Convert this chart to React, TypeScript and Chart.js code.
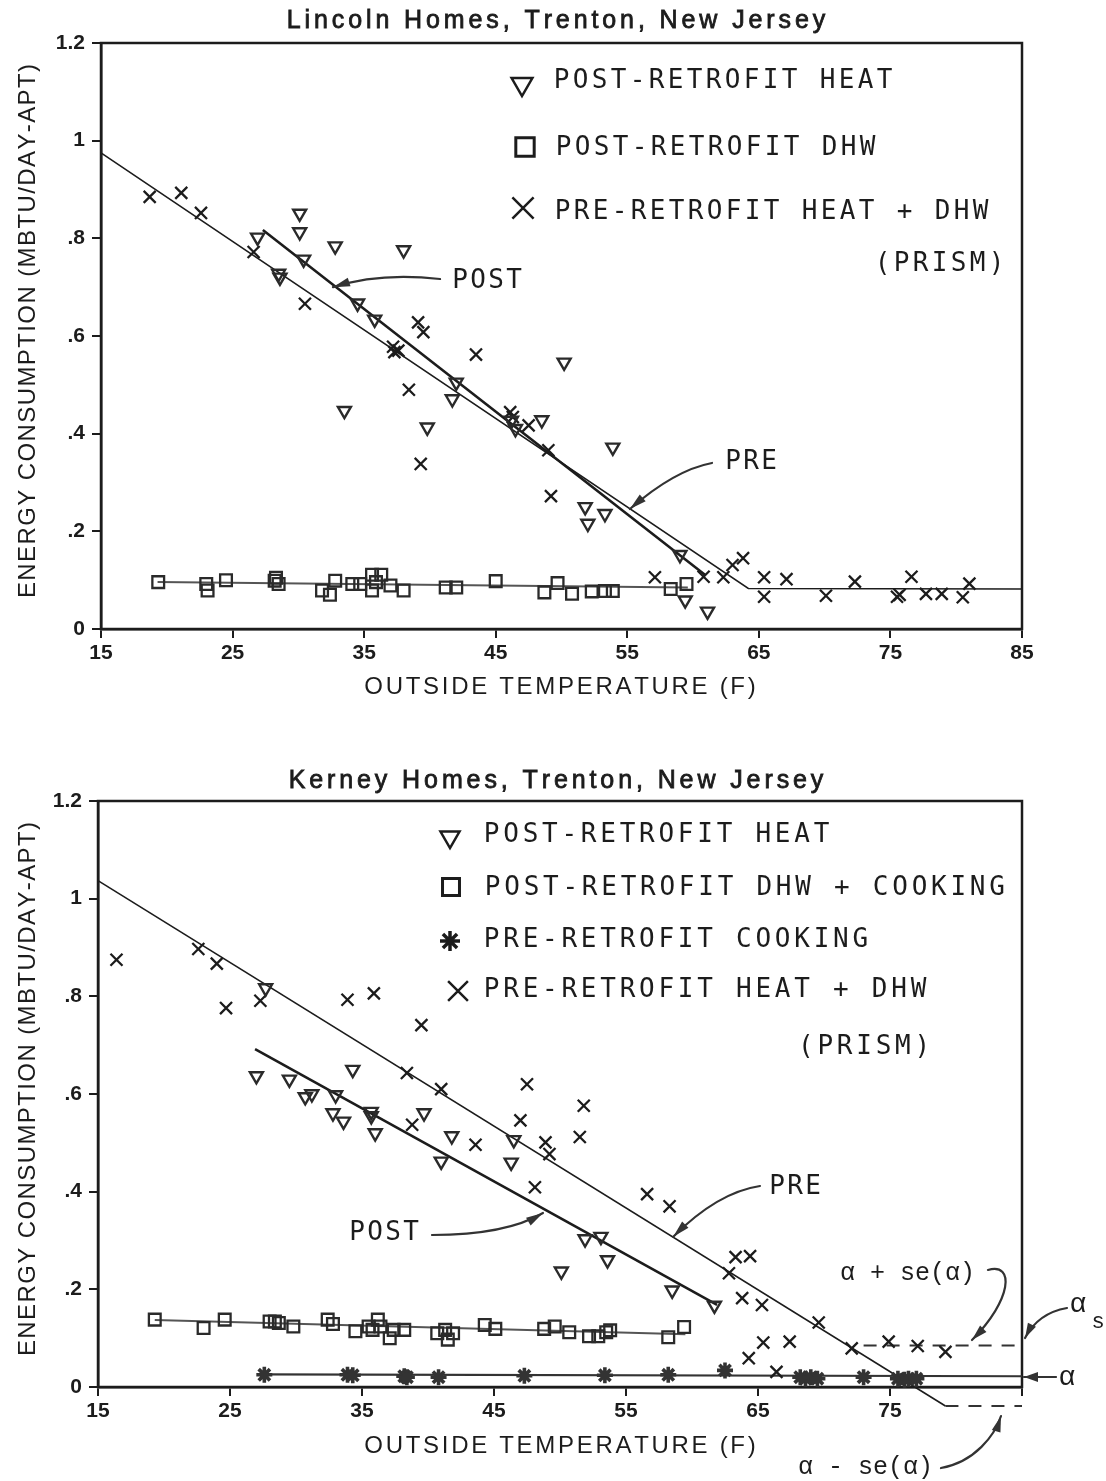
import React, { useEffect, useRef } from 'react';
import { Chart, registerables } from 'chart.js';

Chart.register(...registerables);

type P = [number, number];

// ---------------- Tick values / labels ----------------
const xTickValues = [15, 25, 35, 45, 55, 65, 75, 85];
const xTickLabelsTop = ['15', '25', '35', '45', '55', '65', '75', '85'];
const xTickLabelsBottom = ['15', '25', '35', '45', '55', '65', '75', ''];
const yTickValues = [0, 0.2, 0.4, 0.6, 0.8, 1.0, 1.2];
const yTickLabels = ['0', '.2', '.4', '.6', '.8', '1', '1.2'];

// ---------------- Lincoln Homes (top) ----------------
const lincolnPostHeat: P[] = [
  [26.9, 0.802], [28.5, 0.728], [28.6, 0.72], [30.1, 0.851], [30.1, 0.813], [30.4, 0.757],
  [32.8, 0.784], [33.5, 0.447], [34.5, 0.667], [35.8, 0.634], [38.0, 0.776], [39.8, 0.413],
  [41.7, 0.471], [42.0, 0.505], [46.2, 0.427], [46.5, 0.41], [48.5, 0.428], [50.2, 0.546],
  [51.8, 0.25], [52.0, 0.216], [53.3, 0.236], [53.9, 0.372], [59.0, 0.152], [59.4, 0.059],
  [61.1, 0.036],
];
const lincolnPostDhw: P[] = [
  [19.35, 0.096], [23.0, 0.092], [23.1, 0.079], [24.5, 0.1], [28.2, 0.099], [28.5, 0.092],
  [28.3, 0.105], [31.8, 0.079], [32.4, 0.07], [32.8, 0.099], [34.1, 0.092], [34.7, 0.092],
  [35.6, 0.079], [35.6, 0.111], [36.3, 0.111], [35.9, 0.096], [37.0, 0.089], [38.0, 0.079],
  [41.2, 0.085], [42.0, 0.085], [45.0, 0.098], [48.7, 0.075], [49.7, 0.094], [50.8, 0.072],
  [52.3, 0.077], [53.3, 0.078], [53.9, 0.078], [58.3, 0.082], [59.5, 0.092],
];
const lincolnPreHeatDhw: P[] = [
  [18.7, 0.885], [21.1, 0.893], [22.6, 0.852], [26.6, 0.772], [30.5, 0.666], [37.2, 0.578],
  [37.6, 0.57], [37.3, 0.567], [39.1, 0.628], [39.5, 0.608], [38.4, 0.49], [43.5, 0.562],
  [39.3, 0.338], [46.1, 0.444], [46.3, 0.434], [47.5, 0.417], [49.0, 0.366], [49.2, 0.272],
  [57.1, 0.106], [60.8, 0.107], [62.3, 0.106], [63.0, 0.131], [63.8, 0.145], [65.4, 0.106],
  [65.4, 0.066], [67.1, 0.102], [70.1, 0.068], [72.3, 0.097], [75.5, 0.066], [75.7, 0.07],
  [76.6, 0.107], [77.7, 0.072], [78.9, 0.072], [80.5, 0.065], [81.0, 0.093],
];
const lincolnPreFit: P[] = [[15, 0.975], [64.2, 0.083], [85, 0.082]];
const lincolnPostFit: P[] = [[27.3, 0.817], [60.9, 0.111]];
const lincolnDhwFit: P[] = [[19.3, 0.096], [59.6, 0.085]];

// annotation anchors (data units)
const lincolnPostLabel: P = [41.75, 0.7126];
const lincolnPostArrow: P[] = [[40.77, 0.7167], [36.2, 0.731], [32.63, 0.7]];
const lincolnPreLabel: P = [62.5, 0.342];
const lincolnPreArrow: P[] = [[61.44, 0.34], [58.58, 0.3254], [55.2, 0.2457]];

// ---------------- Kerney Homes (bottom) ----------------
const kerneyPostHeat: P[] = [
  [27.7, 0.817], [27.0, 0.637], [29.5, 0.63], [30.7, 0.594], [31.2, 0.6], [33.0, 0.598],
  [34.3, 0.65], [32.8, 0.561], [33.6, 0.544], [35.7, 0.564], [35.7, 0.555], [36.0, 0.52],
  [39.7, 0.561], [41.8, 0.514], [41.0, 0.462], [46.5, 0.506], [46.3, 0.46], [50.1, 0.237],
  [51.9, 0.303], [53.1, 0.308], [53.6, 0.26], [58.5, 0.198], [61.7, 0.167],
];
const kerneyPostDhwCook: P[] = [
  [19.3, 0.138], [23.0, 0.121], [24.6, 0.138], [28.0, 0.134], [28.4, 0.134], [28.7, 0.131],
  [29.8, 0.124], [32.4, 0.138], [32.8, 0.129], [34.5, 0.114], [35.5, 0.124], [35.8, 0.117],
  [36.2, 0.138], [36.4, 0.124], [37.1, 0.1], [37.4, 0.117], [38.2, 0.117], [40.7, 0.11],
  [41.3, 0.117], [41.5, 0.097], [41.9, 0.11], [44.3, 0.127], [45.1, 0.119], [48.8, 0.119],
  [49.6, 0.124], [50.7, 0.112], [52.2, 0.104], [52.9, 0.104], [53.5, 0.112], [53.8, 0.116],
  [58.2, 0.102], [59.4, 0.123],
];
const kerneyPreCooking: P[] = [
  [27.6, 0.025], [33.9, 0.025], [34.3, 0.024], [38.2, 0.022], [38.4, 0.02], [40.8, 0.02],
  [47.3, 0.023], [53.4, 0.024], [58.2, 0.025], [62.5, 0.034], [68.2, 0.02], [68.6, 0.017],
  [69.0, 0.02], [69.5, 0.017], [73.0, 0.02], [75.6, 0.017], [76.1, 0.015], [76.4, 0.017],
  [77.0, 0.017],
];
const kerneyPreHeatDhw: P[] = [
  [16.4, 0.875], [22.6, 0.897], [24.0, 0.867], [24.7, 0.776], [27.3, 0.791], [33.9, 0.793],
  [35.9, 0.806], [39.5, 0.741], [38.4, 0.643], [41.0, 0.61], [38.8, 0.537], [43.6, 0.496],
  [47.5, 0.62], [47.0, 0.546], [48.9, 0.501], [49.2, 0.477], [48.1, 0.409], [51.8, 0.576],
  [51.5, 0.512], [56.6, 0.395], [58.3, 0.37], [62.8, 0.233], [63.3, 0.266], [64.4, 0.268],
  [63.8, 0.182], [65.3, 0.168], [64.3, 0.059], [65.4, 0.091], [67.4, 0.093], [66.4, 0.031],
  [69.6, 0.132], [72.1, 0.079], [74.9, 0.093], [77.1, 0.084], [79.2, 0.072],
];
const kerneyPreFit: P[] = [[15, 1.037], [79.2, -0.039]];
const kerneyPostFit: P[] = [[26.9, 0.692], [61.9, 0.168]];
const kerneyDhwCookFit: P[] = [[19.3, 0.137], [59.5, 0.108]];
const kerneyCookFit: P[] = [[27.5, 0.026], [85, 0.022]];
const kerneyAlphaPlus: P[] = [[73, 0.085], [85, 0.085]];
const kerneyAlphaMinus: P[] = [[79.2, -0.039], [85, -0.039]];

const kerneyPostLabel: P = [34.09, 0.3154];
const kerneyPostArrow: P[] = [[40.3, 0.3113], [45.91, 0.3113], [48.71, 0.3563]];
const kerneyPreLabel: P = [65.91, 0.4096];
const kerneyPreArrow: P[] = [[65.15, 0.4116], [61.95, 0.3987], [58.58, 0.3078]];
const kerneyPlusLabel: P = [71.21, 0.2334];
const kerneyPlusArrow: P[] = [[82.42, 0.2396], [84.47, 0.256], [84.24, 0.1782], [81.21, 0.0962]];
const kerneyAlphaSLabel: P = [89.24, 0.1679];
const kerneyAlphaSSub: P = [90.76, 0.1331];
const kerneyAlphaSArrow: P[] = [[88.41, 0.1618], [86.21, 0.1515], [85.23, 0.1003]];
const kerneyAlphaLabel: P = [88.41, 0.0184];
const kerneyAlphaArrow: P[] = [[87.58, 0.0205], [85.15, 0.0205]];
const kerneyMinusLabel: P = [68.03, -0.1638];
const kerneyMinusArrow: P[] = [[78.86, -0.1659], [81.44, -0.1536], [82.95, -0.0983], [83.41, -0.0594]];

// ---------------- styling ----------------
const INK = '#1c1c1c';
const MONO = '"DejaVu Sans Mono", monospace';
const SANS = '"Liberation Sans", Arial, sans-serif';

const pts = (a: P[]) => a.map(([x, y]) => ({ x, y }));

const triStyle = {
  pointStyle: 'triangle', pointRotation: 180, pointRadius: 7.5, pointBorderWidth: 2.4,
  pointBorderColor: '#2a2a2a', pointBackgroundColor: 'rgba(0,0,0,0)', showLine: false, clip: false,
};
const rectStyle = {
  pointStyle: 'rect', pointRadius: 8.3, pointBorderWidth: 2.3,
  pointBorderColor: '#2a2a2a', pointBackgroundColor: 'rgba(0,0,0,0)', showLine: false, clip: false,
};
const crossStyle = {
  pointStyle: 'crossRot', pointRadius: 8.5, pointBorderWidth: 2.3,
  pointBorderColor: INK, pointBackgroundColor: INK, showLine: false, clip: false,
};
const starStyle = {
  pointStyle: 'star', pointRadius: 8, pointBorderWidth: 3.6,
  pointBorderColor: '#333', pointBackgroundColor: '#333', showLine: false, clip: false,
};
function lineDs(a: P[], width: number, color = INK, dash: number[] = []) {
  return {
    data: pts(a), showLine: true, pointRadius: 0, borderColor: color, borderWidth: width,
    borderDash: dash, fill: false, tension: 0, clip: false,
  };
}

// ---------------- drawing helpers ----------------
function drawTracked(ctx: CanvasRenderingContext2D, text: string, cx: number, cy: number, font: string, spacing: number, rotate = false, stroke = 0) {
  ctx.save();
  ctx.font = font;
  ctx.fillStyle = INK;
  ctx.strokeStyle = INK;
  ctx.textBaseline = 'middle';
  ctx.textAlign = 'left';
  const chars = Array.from(text);
  const widths = chars.map((c) => ctx.measureText(c).width);
  const total = widths.reduce((a, b) => a + b, 0) + spacing * (chars.length - 1);
  ctx.translate(cx, cy);
  if (rotate) ctx.rotate(-Math.PI / 2);
  let x = -total / 2;
  chars.forEach((c, i) => {
    ctx.fillText(c, x, 0);
    if (stroke > 0) { ctx.lineWidth = stroke; ctx.strokeText(c, x, 0); }
    x += widths[i] + spacing;
  });
  ctx.restore();
}

function drawMono(ctx: CanvasRenderingContext2D, text: string, x: number, cy: number, pitch: number, size: number, align: 'left' | 'right' = 'left') {
  ctx.save();
  ctx.font = `${size}px ${MONO}`;
  ctx.fillStyle = INK;
  ctx.textBaseline = 'middle';
  ctx.textAlign = 'center';
  const chars = Array.from(text);
  const start = align === 'left' ? x : x - chars.length * pitch;
  chars.forEach((c, i) => ctx.fillText(c, start + i * pitch + pitch / 2, cy));
  ctx.restore();
}

function drawMarker(ctx: CanvasRenderingContext2D, kind: string, x: number, y: number, r: number, lw: number) {
  ctx.save();
  ctx.strokeStyle = INK;
  ctx.lineWidth = lw;
  ctx.beginPath();
  if (kind === 'tri') {
    ctx.moveTo(x - r * 0.866, y - r * 0.5);
    ctx.lineTo(x + r * 0.866, y - r * 0.5);
    ctx.lineTo(x, y + r);
    ctx.closePath();
  } else if (kind === 'rect') {
    const s = r * 0.707;
    ctx.rect(x - s, y - s, 2 * s, 2 * s);
  } else if (kind === 'x') {
    const s = r * 0.707;
    ctx.moveTo(x - s, y - s); ctx.lineTo(x + s, y + s);
    ctx.moveTo(x + s, y - s); ctx.lineTo(x - s, y + s);
  } else if (kind === 'star') {
    const s = r * 0.707;
    ctx.moveTo(x - s, y - s); ctx.lineTo(x + s, y + s);
    ctx.moveTo(x + s, y - s); ctx.lineTo(x - s, y + s);
    ctx.moveTo(x - r, y); ctx.lineTo(x + r, y);
    ctx.moveTo(x, y - r); ctx.lineTo(x, y + r);
  }
  ctx.stroke();
  ctx.restore();
}

function drawArrow(ctx: CanvasRenderingContext2D, p: number[][], headLen = 17, headHalf = 4.5, lw = 2.2) {
  ctx.save();
  ctx.strokeStyle = '#333';
  ctx.fillStyle = '#333';
  ctx.lineWidth = lw;
  ctx.lineCap = 'round';
  ctx.beginPath();
  ctx.moveTo(p[0][0], p[0][1]);
  if (p.length === 2) ctx.lineTo(p[1][0], p[1][1]);
  else if (p.length === 3) ctx.quadraticCurveTo(p[1][0], p[1][1], p[2][0], p[2][1]);
  else ctx.bezierCurveTo(p[1][0], p[1][1], p[2][0], p[2][1], p[3][0], p[3][1]);
  ctx.stroke();
  const [tx, ty] = p[p.length - 1];
  const [cx, cy] = p[p.length - 2];
  const a = Math.atan2(ty - cy, tx - cx);
  const bx = tx - Math.cos(a) * headLen;
  const by = ty - Math.sin(a) * headLen;
  ctx.beginPath();
  ctx.moveTo(tx, ty);
  ctx.lineTo(bx + Math.sin(a) * headHalf, by - Math.cos(a) * headHalf);
  ctx.lineTo(bx - Math.sin(a) * headHalf, by + Math.cos(a) * headHalf);
  ctx.closePath();
  ctx.fill();
  ctx.restore();
}

type Spec = {
  height: number;
  padTop: number;
  padRight: number;
  yAxisW: number;
  xAxisH: number;
  xLabels: string[];
  datasets: any[];
  decorate: (ctx: CanvasRenderingContext2D, px: (d: P) => number[]) => void;
};

function makeChart(canvas: HTMLCanvasElement, spec: Spec) {
  const tickFont = { family: SANS, size: 21, weight: 'bold' as const };
  const decor = {
    id: 'decor',
    beforeDatasetsDraw(chart: any) {
      const { ctx, chartArea: a } = chart;
      ctx.save();
      ctx.strokeStyle = INK;
      ctx.lineWidth = 2.5;
      ctx.strokeRect(a.left, a.top, a.right - a.left, a.bottom - a.top);
      ctx.restore();
    },
    afterDraw(chart: any) {
      const ctx = chart.ctx;
      const px = (d: P) => [chart.scales.x.getPixelForValue(d[0]), chart.scales.y.getPixelForValue(d[1])];
      spec.decorate(ctx, px);
    },
  };
  return new Chart(canvas, {
    type: 'scatter',
    data: { datasets: spec.datasets },
    options: {
      animation: false,
      responsive: false,
      devicePixelRatio: 1,
      events: [],
      layout: { padding: { left: 0, right: spec.padRight, top: spec.padTop, bottom: 0 } },
      plugins: { legend: { display: false }, tooltip: { enabled: false }, title: { display: false } },
      scales: {
        x: {
          type: 'linear',
          min: 15,
          max: 85,
          afterBuildTicks: (s: any) => { s.ticks = xTickValues.map((v) => ({ value: v })); },
          afterFit: (s: any) => { s.height = spec.xAxisH; },
          ticks: {
            callback: (_v: any, i: number) => spec.xLabels[i],
            font: tickFont, color: INK, padding: 3, maxRotation: 0, autoSkip: false,
          },
          grid: { drawOnChartArea: false, drawTicks: true, tickLength: 9, color: INK, lineWidth: 2 },
          border: { display: true, color: INK, width: 2.5 },
        },
        y: {
          type: 'linear',
          min: 0,
          max: 1.2,
          afterBuildTicks: (s: any) => { s.ticks = yTickValues.map((v) => ({ value: v })); },
          afterFit: (s: any) => { s.width = spec.yAxisW; },
          ticks: {
            callback: (_v: any, i: number) => yTickLabels[i],
            font: tickFont, color: INK, padding: 7, autoSkip: false,
          },
          grid: { drawOnChartArea: false, drawTicks: true, tickLength: 9, color: INK, lineWidth: 2 },
          border: { display: true, color: INK, width: 2.5 },
        },
      },
    } as any,
    plugins: [decor],
  });
}

const TITLE_FONT = `25px ${SANS}`;
const AXIS_FONT = `24px ${SANS}`;
const Y_TITLE = 'ENERGY CONSUMPTION (MBTU/DAY-APT)';
const X_TITLE = 'OUTSIDE TEMPERATURE (F)';

const topSpec: Spec = {
  height: 740,
  padTop: 43,
  padRight: 84,
  yAxisW: 101,
  xAxisH: 111,
  xLabels: xTickLabelsTop,
  datasets: [
    { label: 'POST-RETROFIT HEAT', data: pts(lincolnPostHeat), ...triStyle },
    { label: 'POST-RETROFIT DHW', data: pts(lincolnPostDhw), ...rectStyle },
    { label: 'PRE-RETROFIT HEAT + DHW (PRISM)', data: pts(lincolnPreHeatDhw), ...crossStyle },
    { label: 'PRE fit', ...lineDs(lincolnPreFit, 1.6) },
    { label: 'POST fit', ...lineDs(lincolnPostFit, 2.6) },
    { label: 'DHW fit', ...lineDs(lincolnDhwFit, 2, '#555') },
  ],
  decorate: (ctx, px) => {
    drawTracked(ctx, 'Lincoln Homes, Trenton, New Jersey', 556, 21, TITLE_FONT, 3.9, false, 0.8);
    drawTracked(ctx, X_TITLE, 560, 687, AXIS_FONT, 2.7);
    drawTracked(ctx, Y_TITLE, 28, 331, AXIS_FONT, 1.4, true);
    drawMarker(ctx, 'tri', 522, 84, 12, 2.5);
    drawMarker(ctx, 'rect', 525, 147, 13, 3);
    drawMarker(ctx, 'x', 523, 208, 15, 2.5);
    drawMono(ctx, 'POST-RETROFIT HEAT', 552, 81, 19, 26);
    drawMono(ctx, 'POST-RETROFIT DHW', 554, 148, 19, 26);
    drawMono(ctx, 'PRE-RETROFIT HEAT + DHW', 553, 212, 19, 26);
    drawMono(ctx, '(PRISM)', 1006, 264, 19, 26, 'right');
    const pl = px(lincolnPostLabel);
    drawMono(ctx, 'POST', pl[0] - 2, pl[1], 18, 26);
    drawArrow(ctx, lincolnPostArrow.map(px));
    const rl = px(lincolnPreLabel);
    drawMono(ctx, 'PRE', rl[0] - 2, rl[1], 18, 26);
    drawArrow(ctx, lincolnPreArrow.map(px));
  },
};

const bottomSpec: Spec = {
  height: 741,
  padTop: 61,
  padRight: 84,
  yAxisW: 98,
  xAxisH: 94,
  xLabels: xTickLabelsBottom,
  datasets: [
    { label: 'POST-RETROFIT HEAT', data: pts(kerneyPostHeat), ...triStyle },
    { label: 'POST-RETROFIT DHW + COOKING', data: pts(kerneyPostDhwCook), ...rectStyle },
    { label: 'PRE-RETROFIT COOKING', data: pts(kerneyPreCooking), ...starStyle },
    { label: 'PRE-RETROFIT HEAT + DHW (PRISM)', data: pts(kerneyPreHeatDhw), ...crossStyle },
    { label: 'PRE fit', ...lineDs(kerneyPreFit, 1.6) },
    { label: 'POST fit', ...lineDs(kerneyPostFit, 2.6) },
    { label: 'DHW + cooking fit', ...lineDs(kerneyDhwCookFit, 2, '#555') },
    { label: 'cooking fit (alpha)', ...lineDs(kerneyCookFit, 2.2, '#333') },
    { label: 'alpha + se', ...lineDs(kerneyAlphaPlus, 2, '#333', [13, 10]) },
    { label: 'alpha - se', ...lineDs(kerneyAlphaMinus, 2, '#333', [13, 10]) },
  ],
  decorate: (ctx, px) => {
    drawTracked(ctx, 'Kerney Homes, Trenton, New Jersey', 556, 41, TITLE_FONT, 3.9, false, 0.8);
    drawTracked(ctx, X_TITLE, 560, 706, AXIS_FONT, 2.7);
    drawTracked(ctx, Y_TITLE, 28, 349, AXIS_FONT, 1.4, true);
    drawMarker(ctx, 'tri', 450, 97, 11, 2.5);
    drawMarker(ctx, 'rect', 451, 147, 12, 3);
    drawMarker(ctx, 'star', 450, 201, 10, 3.5);
    drawMarker(ctx, 'x', 458, 251, 14, 2.5);
    drawMono(ctx, 'POST-RETROFIT HEAT', 482, 95, 19.4, 26);
    drawMono(ctx, 'POST-RETROFIT DHW + COOKING', 483, 148, 19.4, 26);
    drawMono(ctx, 'PRE-RETROFIT COOKING', 482, 200, 19.4, 26);
    drawMono(ctx, 'PRE-RETROFIT HEAT + DHW', 482, 250, 19.4, 26);
    drawMono(ctx, '(PRISM)', 932, 307, 19.4, 26, 'right');
    const pl = px(kerneyPostLabel);
    drawMono(ctx, 'POST', pl[0] - 2, pl[1], 18, 26);
    drawArrow(ctx, kerneyPostArrow.map(px));
    const rl = px(kerneyPreLabel);
    drawMono(ctx, 'PRE', rl[0] - 2, rl[1], 18, 26);
    drawArrow(ctx, kerneyPreArrow.map(px));
    // alpha annotations
    ctx.save();
    ctx.fillStyle = INK;
    ctx.textBaseline = 'middle';
    ctx.font = '25px "Liberation Mono", "DejaVu Sans Mono", monospace';
    const pp = px(kerneyPlusLabel);
    ctx.textAlign = 'left';
    ctx.fillText('\u03b1 + se(\u03b1)', pp[0], pp[1]);
    const mp = px(kerneyMinusLabel);
    ctx.fillText('\u03b1 - se(\u03b1)', mp[0], mp[1]);
    ctx.textAlign = 'center';
    ctx.font = '28px "Liberation Mono", "DejaVu Sans Mono", monospace';
    const al = px(kerneyAlphaLabel);
    ctx.fillText('\u03b1', al[0], al[1]);
    const as = px(kerneyAlphaSLabel);
    ctx.fillText('\u03b1', as[0], as[1]);
    ctx.font = '22px "Liberation Mono", "DejaVu Sans Mono", monospace';
    const ss = px(kerneyAlphaSSub);
    ctx.fillText('s', ss[0], ss[1]);
    ctx.restore();
    drawArrow(ctx, kerneyPlusArrow.map(px), 16, 4.5);
    drawArrow(ctx, kerneyMinusArrow.map(px), 16, 4.5);
    drawArrow(ctx, kerneyAlphaSArrow.map(px), 15, 4.5);
    drawArrow(ctx, kerneyAlphaArrow.map(px), 14, 5);
  },
};

export default function App() {
  const topRef = useRef<HTMLCanvasElement | null>(null);
  const botRef = useRef<HTMLCanvasElement | null>(null);

  useEffect(() => {
    const charts: Chart[] = [];
    if (topRef.current) charts.push(makeChart(topRef.current, topSpec));
    if (botRef.current) charts.push(makeChart(botRef.current, bottomSpec));
    return () => charts.forEach((c) => c.destroy());
  }, []);

  return (
    <div style={{ position: 'absolute', left: 0, top: 0, width: 1106, height: 1481, background: '#fff' }}>
      <canvas ref={topRef} width={1106} height={740} style={{ position: 'absolute', left: 0, top: 0, display: 'block' }} />
      <canvas ref={botRef} width={1106} height={741} style={{ position: 'absolute', left: 0, top: 740, display: 'block' }} />
    </div>
  );
}
